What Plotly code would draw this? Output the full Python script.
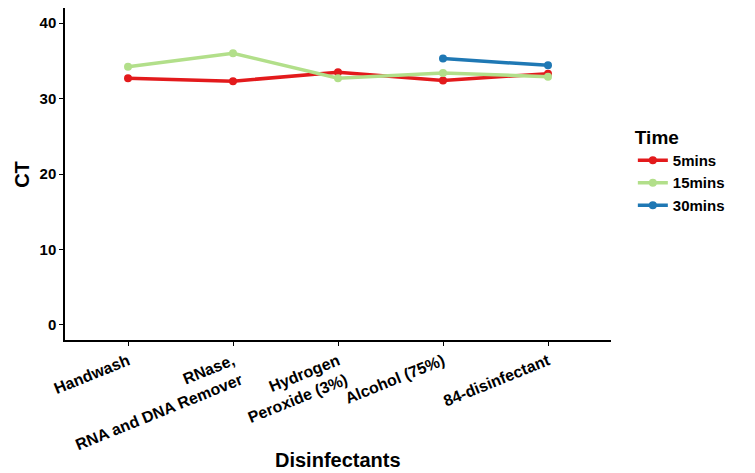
import plotly.graph_objects as go


disinfectants = ["Handwash", "RNase,<br>RNA and DNA Remover", "Hydrogen<br>Peroxide (3%)",
                 "Alcohol (75%)", "84-disinfectant"]

ct_5mins = [32.7, 32.3, 33.5, 32.4, 33.3]
ct_15mins = [34.2, 36.0, 32.7, 33.4, 32.9]
ct_30mins = [None, None, None, 35.3, 34.4]

series_names = ["5mins", "15mins", "30mins"]
y_ticks = [0, 10, 20, 30, 40]


def main():

    colors = ["#e31a1c", "#b2df8a", "#1f78b4"]
    font = "Liberation Sans, Arial, sans-serif"

    fig = go.Figure()

    # One line per time point.
    for name, values, color in zip(series_names, [ct_5mins, ct_15mins, ct_30mins], colors):
        fig.add_trace(go.Scatter(x=disinfectants, y=values, name=name, mode="lines+markers",
                                 line=dict(color=color, width=3.5), marker=dict(color=color, size=8),
                                 connectgaps=False))

    fig.update_xaxes(
        type="category",
        range=[-0.6, 4.6],
        automargin=False,
        showline=True, linecolor="black", linewidth=1.5,
        ticks="outside", ticklen=4, tickcolor="black",
        tickangle=-22,
        tickfont=dict(family=font, size=16, color="black", weight="bold"),
        showgrid=False, zeroline=False,
    )

    fig.update_yaxes(
        range=[-2, 42],
        automargin=False,
        tickvals=y_ticks,
        showline=True, linecolor="black", linewidth=1.5,
        ticks="outside", ticklen=4, tickcolor="black",
        tickfont=dict(family=font, size=15, color="black", weight="bold"),
        showgrid=False, zeroline=False,
    )

    fig.update_layout(
        width=755,
        height=473,
        margin={"l": 65, "r": 144, "t": 8, "b": 133},
        paper_bgcolor="white",
        plot_bgcolor="white",
        font=dict(family=font, color="black"),
        legend=dict(
            title=dict(text="Time", font=dict(family=font, size=19, color="black", weight="bold")),
            font=dict(family=font, size=15, color="black", weight="bold"),
            x=1.04, y=0.51, xanchor="left", yanchor="middle",
            itemwidth=30, tracegroupgap=2,
        ),
        annotations=[
            dict(text="Disinfectants", xref="paper", yref="paper", x=0.5, y=-0.361,
                 showarrow=False, xanchor="center", yanchor="middle",
                 font=dict(family=font, size=20, color="black", weight="bold")),
            dict(text="CT", xref="paper", yref="paper", x=-0.079, y=0.5, textangle=-90,
                 showarrow=False, xanchor="center", yanchor="middle",
                 font=dict(family=font, size=20, color="black", weight="bold")),
        ],
    )

    # Drop the page's default body margin so the figure sits at the window's corner.
    fig.write_html("out.html", config={"displayModeBar": False},
                   post_script="document.body.style.margin = '0';")


if __name__ == "__main__":

    main()
